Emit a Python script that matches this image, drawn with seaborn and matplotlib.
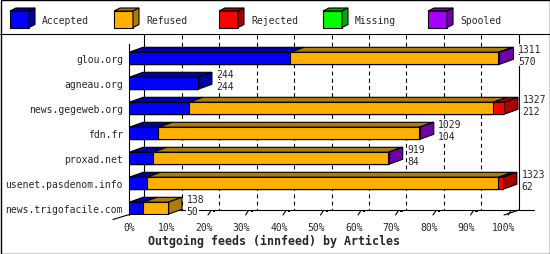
import numpy as np
import pandas as pd
import matplotlib
matplotlib.use("Agg")
import matplotlib.pyplot as plt
import seaborn as sns
from matplotlib.patches import Polygon, Rectangle
from matplotlib.lines import Line2D
from matplotlib.transforms import IdentityTransform

# ---------------- data ----------------
feeds = ["glou.org", "agneau.org", "news.gegeweb.org", "fdn.fr",
         "proxad.net", "usenet.pasdenom.info", "news.trigofacile.com"]
accepted = [570, 244, 212, 104, 84, 62, 50]
refused = [737, 0, 1076, 922, 833, 1245, 88]
rejected = [0, 0, 39, 0, 0, 16, 0]
missing = [0, 0, 0, 0, 0, 0, 0]
spooled = [4, 0, 0, 3, 2, 0, 0]
series_names = ["Accepted", "Refused", "Rejected", "Missing", "Spooled"]
front_colors = ["#0000ff", "#ffb000", "#ff0000", "#00ff00", "#a800ff"]
dark_colors = ["#0000a8", "#b07c00", "#a80000", "#00a800", "#7000a8"]
x_ticks = [0, 10, 20, 30, 40, 50, 60, 70, 80, 90, 100]
x_tick_labels = [f"{t}%" for t in x_ticks]
title = "Outgoing feeds (innfeed) by Articles"

# ---------------- setup ----------------
W, H = 550, 255
sns.set_style("white")
plt.rcParams["font.family"] = ["DejaVu Sans Mono"]
fig = plt.figure(figsize=(W / 100, H / 100), dpi=100)
fig.patch.set_facecolor("white")

ax = fig.add_axes([129 / W, 1 - 216 / H, 375 / W, 171 / H])
ax.patch.set_visible(False)

series = np.array([accepted, refused, rejected, missing, spooled], dtype=float)
totals = series.sum(axis=0)
scale = 100.0 / totals.max()
cum = np.cumsum(series, axis=0) * scale
starts = np.vstack([np.zeros(len(feeds)), cum[:-1]])

bar_w = 0.48
for j in reversed(range(len(series_names))):
    sns.barplot(x=list(cum[j]), y=feeds, orient="h", color=front_colors[j],
                saturation=1, width=bar_w, edgecolor="black", linewidth=0.8,
                errorbar=None, ax=ax, zorder=3)

ax.set_xlim(0, 100)
ax.set_ylim(6.268, -0.572)
ax.set_xticks(x_ticks)
ax.set_xticklabels(x_tick_labels, fontsize=7)
ax.set_yticks(range(len(feeds)))
ax.set_yticklabels(feeds, fontsize=7)
ax.tick_params(axis="x", length=0, pad=5.4)
ax.tick_params(axis="y", length=0, pad=4.3)
ax.set_xlabel("")
ax.set_ylabel("")
for s in ["top", "right", "bottom"]:
    ax.spines[s].set_visible(False)
ax.spines["left"].set_color("black")
ax.spines["left"].set_linewidth(0.8)
ax.grid(False)

ident = IdentityTransform()


def P(x, y):  # pixel from top-left -> display
    return (x, H - y)


def add_line(p0, p1, z=1, ls="-", lw=0.8):
    ln = Line2D([p0[0], p1[0]], [p0[1], p1[1]], color="black", lw=lw,
                linestyle=ls, transform=ident, clip_on=False, zorder=z)
    ax.add_line(ln)


# back wall / floor
DXA = 15
x0_disp = ax.transData.transform((0, 0))[0]
x100_disp = ax.transData.transform((100, 0))[0]
for t in x_ticks[1:-1]:
    xd = ax.transData.transform((t, 0))[0] + DXA
    add_line((xd, H - 36), (xd, H - 211), z=1, ls=(0, (3.5, 3)))
add_line((x0_disp + DXA, H - 35), (x0_disp + DXA, H - 211), z=1)
add_line((x100_disp + DXA, H - 35), (x100_disp + DXA, H - 211), z=1)
add_line((x0_disp + DXA, H - 211), (x100_disp + 30, H - 211), z=1)
add_line((x100_disp, H - 216), (x100_disp + DXA, H - 211), z=1)
add_line((x0_disp - 16, H - 220.5), (x0_disp + DXA, H - 211), z=1)
for t in x_ticks[2:]:
    xd = ax.transData.transform((t, 0))[0]
    add_line((xd + 4, H - 216), (xd + 7, H - 211.5), z=1)
    ax.add_patch(Rectangle((xd + 9, H - 213), 2.2, 2.2, facecolor="black",
                           edgecolor="none", transform=ident, clip_on=False, zorder=1))

# 3D faces of bars
DX, DY = 14, 5
for i in range(len(feeds)):
    last = max(j for j in range(len(series_names)) if series[j, i] > 0)
    for j in range(len(series_names)):
        if series[j, i] <= 0:
            continue
        xs, yt = ax.transData.transform((starts[j, i], i - bar_w / 2))
        xe, yb = ax.transData.transform((cum[j, i], i + bar_w / 2))
        top = Polygon([(xs, yt), (xe, yt), (xe + DX, yt + DY), (xs + DX, yt + DY)],
                      closed=True, facecolor=dark_colors[j], edgecolor="black",
                      lw=0.8, transform=ident, clip_on=False, zorder=2.5)
        ax.add_patch(top)
        if j == last:
            side = Polygon([(xe, yb), (xe, yt), (xe + DX, yt + DY), (xe + DX, yb + DY)],
                           closed=True, facecolor=dark_colors[j], edgecolor="black",
                           lw=0.8, transform=ident, clip_on=False, zorder=2.5)
            ax.add_patch(side)
    # value labels: total and accepted
    for txt, off in [(f"{int(totals[i])}", 3.3), (f"{accepted[i]}", -8.4)]:
        ax.annotate(txt, xy=(cum[-1, i], i - bar_w / 2), xytext=(18.5, off),
                    textcoords="offset pixels", ha="left", va="center", fontsize=7,
                    bbox=dict(facecolor="white", edgecolor="none", pad=0.3),
                    zorder=5, annotation_clip=False)

# legend
leg_x_icon = [10, 114, 219, 323, 428]
for k, name in enumerate(series_names):
    x0 = leg_x_icon[k]
    front = Rectangle(P(x0, 28.5), 19, 16.5, facecolor=front_colors[k], edgecolor="black",
                      lw=0.8, transform=ident, clip_on=False, zorder=6)
    fig.add_artist(front)
    topf = Polygon([P(x0, 12), P(x0 + 19, 12), P(x0 + 25, 9), P(x0 + 6, 9)], closed=True,
                   facecolor=dark_colors[k], edgecolor="black", lw=0.8, transform=ident, zorder=6)
    sidef = Polygon([P(x0 + 19, 12), P(x0 + 25, 9), P(x0 + 25, 25.5), P(x0 + 19, 28.5)], closed=True,
                    facecolor=dark_colors[k], edgecolor="black", lw=0.8, transform=ident, zorder=6)
    fig.add_artist(topf)
    fig.add_artist(sidef)
    fig.text((x0 + 32) / W, 1 - 20.5 / H, name, fontsize=7, ha="left", va="center")

fig.add_artist(Line2D([0, 1], [1 - 35 / H, 1 - 35 / H], color="black", lw=0.8,
                      transform=fig.transFigure))
fig.add_artist(Rectangle((0.5, 0.5), W - 1, H - 1, facecolor="none", edgecolor="black",
                         lw=1.0, transform=ident))

fig.text(274 / W, 1 - 241.7 / H, title, ha="center", va="center",
         fontweight="bold", fontsize=8.4)

fig.savefig("out.png", dpi=100)
